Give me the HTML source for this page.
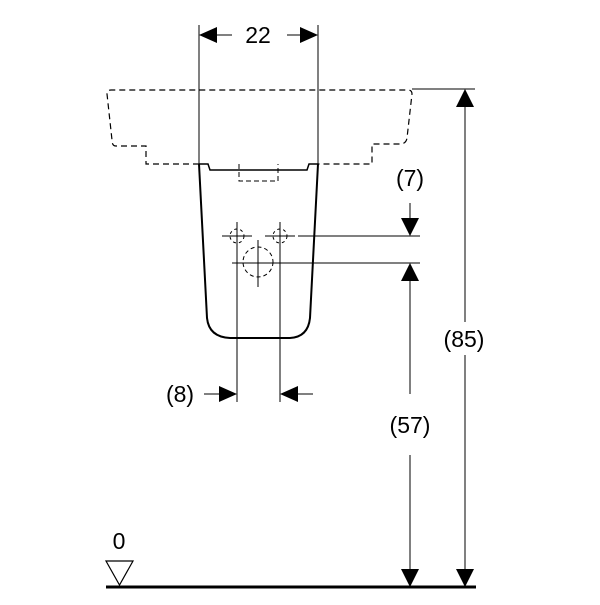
<!DOCTYPE html>
<html><head><style>body{margin:0;background:#fff}</style></head><body>
<svg width="600" height="600" viewBox="0 0 600 600" xmlns="http://www.w3.org/2000/svg" font-family="Liberation Sans, sans-serif">
<rect width="600" height="600" fill="#fff"/>
<g fill="none" stroke="#000">
<path d="M199 164 H146 V146 H116 Q112 146 112 140 L107 94 Q107 90 111 90 H408 Q412 90 412 94 L407 138 Q406 144 400 144 H372 V164 H318" stroke-dasharray="6,4" stroke-width="1.2"/>
<path d="M239 164 V181 H278 V164" stroke-dasharray="5,3" stroke-width="1"/>
<path d="M199 164 L207 318 Q209 337 230 338 L290 338 Q308 337 310 318 L318 164" stroke-width="2"/>
<path d="M199 164 H208 L210 170 H307 L309 164 H318" stroke-width="1.5"/>
<circle cx="237" cy="236" r="7" stroke-dasharray="3,3"/>
<circle cx="280" cy="236" r="7" stroke-dasharray="3,3"/>
<circle cx="258" cy="262" r="15" stroke-dasharray="4,3"/>
<path d="M222 236 H252 M265 236 H295 M258 240 V287 M232 263 H288" stroke-width="1"/>
<path d="M199 25 V164 M318 25 V164 M412 89 H475 M298 236 H420 M288 263 H420 M237 222 V402 M280 222 V402" stroke-width="1"/>
<path d="M215 35 H232 M287 35 H302 M410 203 V222 M410 278 V394 M410 455 V570 M465 100 V322 M465 355 V570 M204 394 H222 M297 394 H313" stroke-width="1"/>
<path d="M106 587 H476" stroke-width="3"/>
<path d="M106 561 H133 L119.5 585 Z" stroke-width="1.2"/>
</g>
<g fill="#000">
<path d="M199 35 L217 27 V43 Z M318 35 L300 27 V43 Z"/>
<path d="M410 236 L401 218 H419 Z M410 263 L401 281 H419 Z"/>
<path d="M465 89 L456 107 H474 Z"/>
<path d="M410 587 L401 569 H419 Z M465 587 L456 569 H474 Z"/>
<path d="M237 394 L219 386 V402 Z M280 394 L298 386 V402 Z"/>
</g>
<g font-size="23" fill="#000" text-anchor="middle">
<text x="258" y="43">22</text>
<text x="410" y="186">(7)</text>
<text x="464" y="347">(85)</text>
<text x="410" y="433">(57)</text>
<text x="180" y="402">(8)</text>
<text x="119" y="549">0</text>
</g>
</svg>
</body></html>
